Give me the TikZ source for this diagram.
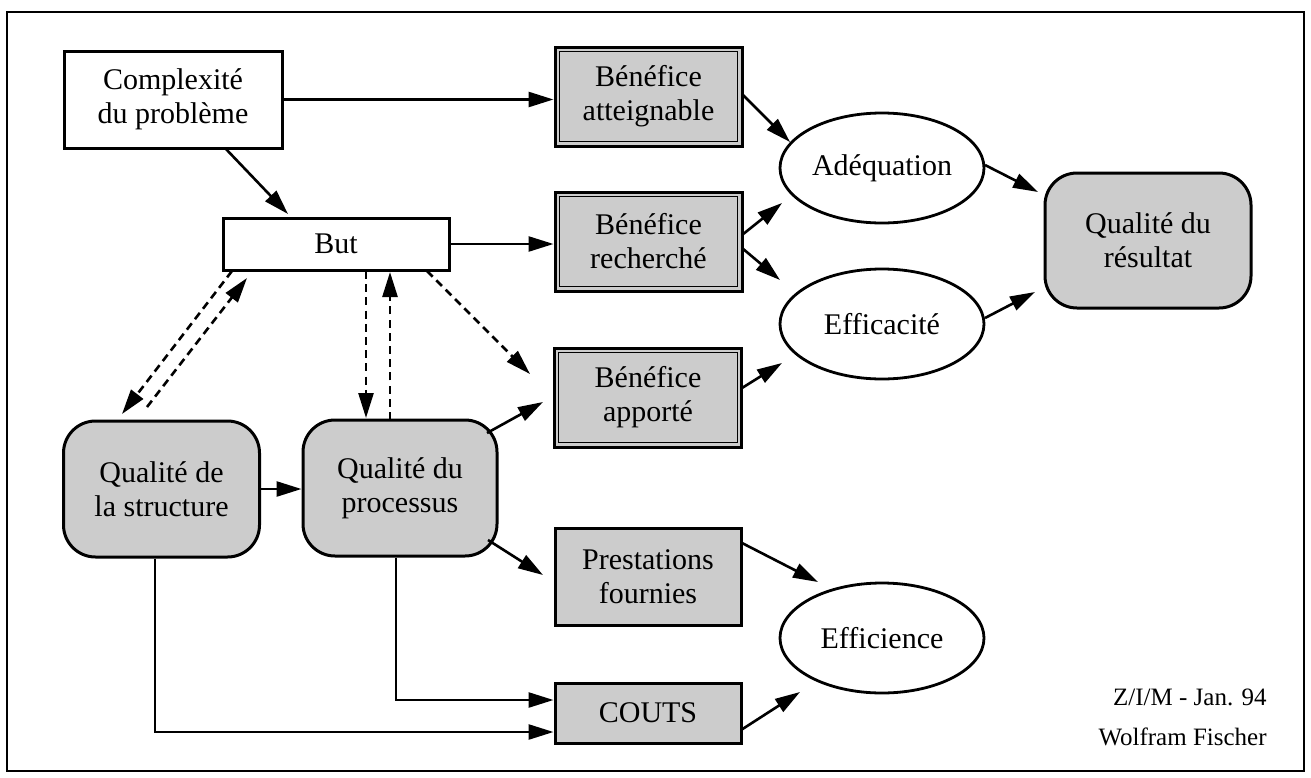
\documentclass[tikz,border=0pt]{standalone}
\usepackage{fontspec}
\setmainfont{Liberation Serif}
\usetikzlibrary{arrows.meta,shapes.geometric}
\definecolor{halftone}{gray}{0.8}
\tikzset{
  lbl/.style={font=\fontsize{15}{17}\selectfont, align=center, inner sep=0pt},
  plainbox/.style={lbl, draw, line width=1.5pt, fill=white, minimum width=#1},
  shadebox/.style={lbl, draw, line width=1.5pt, fill=halftone},
  roundbox/.style={lbl, draw, line width=1.5pt, fill=halftone, rounded corners=16pt,
                   minimum width=98pt, minimum height=68pt},
  oval/.style={lbl, ellipse, draw, line width=1.4pt, fill=white,
               minimum width=102pt, minimum height=55pt},
  arr/.style={line width=1.3pt, -{Triangle[length=12.5pt,width=7.5pt]}},
  darr/.style={arr, dash pattern=on 4pt off 2.6pt},
  sig/.style={font=\fontsize{12.5}{15}\selectfont, anchor=east, inner sep=0pt}
}
\begin{document}
\begin{tikzpicture}[x=0.5pt,y=-0.5pt]
\useasboundingbox (0,0) rectangle (1311,777);
\draw[line width=1pt] (7,12) rectangle (1304,771);

% left column
\node[plainbox=109pt, minimum height=48.5pt] (cpx) at (173,99.5) {Complexité\\du problème};
\node[plainbox=113pt, minimum height=26pt] (but) at (336,244) {But};
\node[roundbox] (str) at (161.5,489) {Qualité de\\la structure};
\node[roundbox, minimum width=97pt] (pro) at (400,488) {Qualité du\\processus};

% middle column
\node[shadebox, minimum width=93.5pt, minimum height=49.5pt] (b1) at (648.5,96.5) {Bénéfice\\atteignable};
\node[shadebox, minimum width=93.5pt, minimum height=49.5pt] (b2) at (648.5,241.5) {Bénéfice\\recherché};
\node[shadebox, minimum width=93.5pt, minimum height=49.5pt] (b3) at (648,397.5) {Bénéfice\\apporté};
\node[shadebox, minimum width=93pt, minimum height=48.5pt] (pre) at (648,576.5) {Prestations\\fournies};
\node[shadebox, minimum width=93pt, minimum height=30pt] (cou) at (648,713) {COUTS};
% inner rule of the double-framed boxes
\foreach \b in {b1,b2,b3}
  \draw[line width=0.6pt] ([shift={(2.9pt,-2.9pt)}]\b.north west) rectangle ([shift={(-2.9pt,2.9pt)}]\b.south east);

% right side
\node[oval] (adq) at (882,168) {Adéquation};
\node[oval] (eff) at (882,324) {Efficacité};
\node[oval] (efc) at (882,638) {Efficience};
\node[roundbox, minimum width=103pt, minimum height=67.5pt] (res) at (1148,240.5) {Qualité du\\résultat};

% solid connectors
\draw[arr] (cpx.east) -- (cpx.east -| b1.west);
\draw[arr] ([shift={(52,48.5)}]cpx.center) -- ([shift={(-48,-30)}]but.center);
\draw[arr] (but.east) -- (but.east -| b2.west);
\draw[arr] ([shift={(93.5,-2.5)}]b1.center) -- ([shift={(-92,-26)}]adq.center);
\draw[arr] ([shift={(93.5,-6.5)}]b2.center) -- ([shift={(-100,35)}]adq.center);
\draw[arr] ([shift={(93.5,6.5)}]b2.center) -- ([shift={(-102,-44)}]eff.center);
\draw[arr] ([shift={(94,-9.5)}]b3.center) -- ([shift={(-100,39)}]eff.center);
\draw[arr] ([shift={(103,-3)}]adq.center) -- ([shift={(-110,-48.5)}]res.center);
\draw[arr] ([shift={(103,-6)}]eff.center) -- ([shift={(-113,51.5)}]res.center);
\draw[arr] ([shift={(94,-33.5)}]pre.center) -- ([shift={(-64,-56)}]efc.center);
\draw[arr] ([shift={(93,17)}]cou.center) -- ([shift={(-82,54)}]efc.center);
\draw[arr] (str.east) -- (str.east -| pro.west);
\draw[arr] ([shift={(87,-55)}]pro.center) -- ([shift={(-105,4.5)}]b3.center);
\draw[arr] ([shift={(88,52)}]pro.center) -- ([shift={(-105,-1.5)}]pre.center);
\draw[arr] ([shift={(-4,0)}]pro.south) |- ([shift={(0,-13)}]cou.west);
\draw[arr] ([shift={(-6.5,0)}]str.south) |- ([shift={(0,19)}]cou.west);

% dashed connectors
\draw[darr] ([shift={(-104,27)}]but.center) -- ([shift={(-39.5,-75)}]str.center);
\draw[darr] ([shift={(-14.5,-82)}]str.center) -- ([shift={(-89,34)}]but.center);
\draw[darr] ([shift={(30,27)}]but.center) -- ([shift={(-34,-70)}]pro.center);
\draw[darr] ([shift={(-10,-68)}]pro.center) -- ([shift={(54,28)}]but.center);
\draw[darr] ([shift={(91,27)}]but.center) -- ([shift={(-118,-23.5)}]b3.center);

% signature
\node[sig] (sig1) at (1267,697) {Z/I/M - Jan. 94};
\node[sig] (sig2) at (1267,737) {Wolfram Fischer};
\end{tikzpicture}
\end{document}
